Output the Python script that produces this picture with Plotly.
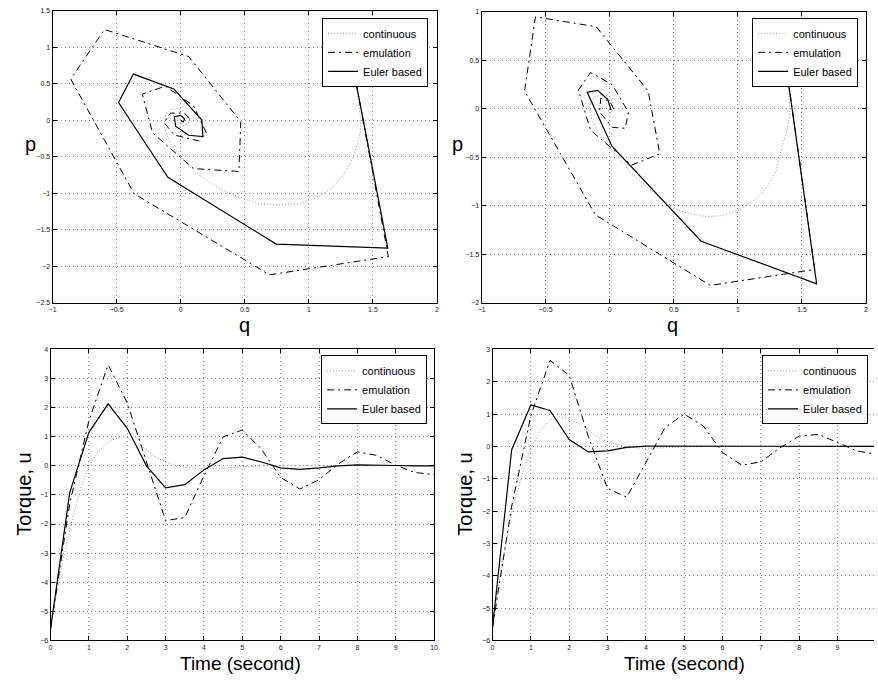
import plotly.graph_objects as go

# ---------------- data ----------------
# Top-left phase portrait (q, p)
tl_cont_q = [1.37, 1.39, 1.405, 1.40, 1.38, 1.34, 1.27, 1.17, 1.05, 0.92, 0.78, 0.62, 0.45, 0.30, 0.16,
             0.05, -0.04, -0.10, -0.13, -0.12, -0.08, -0.02, 0.04, 0.07, 0.06, 0.03, 0.00, -0.02, -0.01, 0.00]
tl_cont_p = [0.50, 0.25, 0.00, -0.15, -0.33, -0.53, -0.75, -0.94, -1.07, -1.14, -1.16, -1.14, -1.05, -0.93, -0.77,
             -0.60, -0.42, -0.24, -0.07, 0.07, 0.15, 0.16, 0.11, 0.03, -0.04, -0.07, -0.06, -0.02, 0.01, 0.01]
tl_emu_q = [1.37, 1.62, 0.693, -0.363, -0.858, -0.595, 0.062, 0.469, 0.454, 0.10, -0.22, -0.30, -0.12,
            0.10, 0.20, 0.14, -0.05, -0.13, -0.08, 0.03, 0.08]
tl_emu_p = [0.50, -1.866, -2.115, -1.005, 0.567, 1.246, 0.875, -0.018, -0.70, -0.66, -0.17, 0.36, 0.47,
            0.20, -0.17, -0.28, -0.20, -0.03, 0.10, 0.10, 0.00]
tl_eul_q = [1.37, 1.616, 0.745, -0.10, -0.485, -0.369, -0.054, 0.165, 0.173, 0.062, -0.04, -0.05, 0.00,
            0.03, 0.02, 0.00, 0.00]
tl_eul_p = [0.50, -1.75, -1.694, -0.779, 0.245, 0.635, 0.431, 0.005, -0.221, -0.203, -0.08, 0.05, 0.07,
            0.02, -0.02, -0.01, 0.00]

# Top-right phase portrait (q, p)
tr_cont_q = [1.37, 1.39, 1.405, 1.40, 1.38, 1.34, 1.30, 1.23, 1.15, 1.00, 0.87, 0.76, 0.62, 0.53, 0.40, 0.275,
             0.16, 0.07, -0.02, -0.09, -0.14, -0.16, -0.13, -0.07, -0.02, 0.02, 0.03, 0.01, -0.01, -0.01, 0.00]
tr_cont_p = [0.50, 0.25, 0.05, -0.10, -0.24, -0.40, -0.63, -0.80, -0.92, -1.05, -1.10, -1.11, -1.08, -1.04, -0.93, -0.786,
             -0.65, -0.51, -0.37, -0.24, -0.10, 0.03, 0.11, 0.15, 0.13, 0.07, 0.00, -0.04, -0.03, 0.00, 0.01]
tr_emu_q = [1.37, 1.60, 0.785, -0.112, -0.665, -0.58, -0.106, 0.30, 0.39, 0.17, -0.15, -0.245, -0.15,
            0.02, 0.146, 0.12, 0.02, -0.08, -0.07, 0.00, 0.03]
tr_emu_p = [0.50, -1.655, -1.82, -1.092, 0.184, 0.949, 0.847, 0.184, -0.463, -0.58, -0.22, 0.194, 0.375,
            0.25, -0.037, -0.20, -0.19, -0.03, 0.11, 0.08, 0.00]
tr_eul_q = [1.37, 1.614, 0.713, 0.017, -0.176, -0.095, -0.016, 0.012, 0.01, 0.00]
tr_eul_p = [0.50, -1.803, -1.364, -0.384, 0.173, 0.192, 0.098, 0.00, -0.01, 0.00]

# Bottom: torque vs time
t_samp = [0, 0.5, 1, 1.5, 2, 2.5, 3, 3.5, 4, 4.5, 5, 5.5, 6, 6.5, 7, 7.5, 8, 8.5, 9, 9.5, 10]
t_cont = [0, 0.25, 0.5, 0.75, 1.0, 1.25, 1.5, 1.75, 2.0, 2.25, 2.5, 2.75, 3.0, 3.5, 4.0, 4.5, 5.0, 5.5,
          6.0, 7.0, 8.0, 9.0, 10.0]

bl_cont = [-5.6, -3.7, -2.2, -0.9, 0.0, 0.5, 0.82, 0.97, 0.95, 0.78, 0.55, 0.30, 0.12, -0.06, -0.10, -0.08,
           -0.03, 0.00, 0.02, 0.01, 0.00, 0.00, 0.00]
bl_emu = [-5.6, -1.3, 1.55, 3.47, 2.16, 0.11, -1.88, -1.78, -0.34, 0.99, 1.23, 0.57, -0.40, -0.80, -0.48,
          0.06, 0.48, 0.36, 0.02, -0.23, -0.30]
bl_eul = [-5.6, -0.92, 1.15, 2.13, 1.29, 0.00, -0.76, -0.65, -0.14, 0.25, 0.30, 0.13, -0.07, -0.12, -0.07,
          0.00, 0.03, 0.03, 0.01, 0.00, 0.00]

br_cont = [-5.6, -3.6, -2.05, -0.95, -0.05, 0.50, 0.82, 0.92, 0.85, 0.70, 0.50, 0.28, 0.15, -0.02, -0.06,
           -0.05, -0.02, 0.00, 0.01, 0.00, 0.00, 0.00, 0.00]
br_emu = [-5.6, -1.85, 0.95, 2.66, 2.20, 0.30, -1.30, -1.57, -0.50, 0.58, 1.00, 0.63, -0.19, -0.58, -0.48,
          -0.04, 0.32, 0.37, 0.12, -0.14, -0.24]
br_eul = [-5.6, -0.10, 1.28, 1.11, 0.21, -0.17, -0.14, -0.03, 0.01, 0.01, 0.00, 0.00, 0.00, 0.00, 0.00,
          0.00, 0.00, 0.00, 0.00, 0.00, 0.00]

names = ["continuous", "emulation", "Euler based"]

# ---------------- styles ----------------
FONT = "Liberation Sans"
W, H = 878, 681
styles = [
    dict(color="#9a9a9a", width=1, dash="1px,2px"),
    dict(color="black", width=1, dash="7px,4px,2px,4px"),
    dict(color="black", width=1.2),
]

fig = go.Figure()

panels = [
    ("x", "y", "legend", [(tl_cont_q, tl_cont_p), (tl_emu_q, tl_emu_p), (tl_eul_q, tl_eul_p)]),
    ("x2", "y2", "legend2", [(tr_cont_q, tr_cont_p), (tr_emu_q, tr_emu_p), (tr_eul_q, tr_eul_p)]),
    ("x3", "y3", "legend3", [(t_cont, bl_cont), (t_samp, bl_emu), (t_samp, bl_eul)]),
    ("x4", "y4", "legend4", [(t_cont, br_cont), (t_samp, br_emu), (t_samp, br_eul)]),
]
for xa, ya, lg, series in panels:
    for (xs, ys), nm, st in zip(series, names, styles):
        fig.add_trace(go.Scatter(x=xs, y=ys, mode="lines", name=nm, line=st,
                                 xaxis=xa, yaxis=ya, legend=lg))


def ax(domain, rng, dtick, mirror="ticks"):
    return dict(domain=domain, range=rng, dtick=dtick, tick0=rng[0], autorange=False,
                showline=True, linecolor="black", linewidth=1, mirror=mirror,
                ticks="inside", ticklen=4, tickcolor="black", tickwidth=1,
                showgrid=True, gridcolor="#8a8a8a", griddash="1px,3px", gridwidth=1,
                zeroline=False, tickfont=dict(family=FONT, size=7, color="#222"))


def px(x0, x1):
    return [x0 / W, min(x1 / W, 1.0)]


def py(y0, y1):
    return [1 - y1 / H, 1 - y0 / H]


xaxis = ax(px(49, 437), [-1, 2], 0.5)
yaxis = ax(py(7, 302), [-2.5, 1.5], 0.5)
xaxis2 = ax(px(482, 870), [-1, 2], 0.5)
yaxis2 = ax(py(8, 302), [-2, 1], 0.5)
xaxis3 = ax(px(47, 434), [0, 10], 1)
yaxis3 = ax(py(349, 643), [-6, 4], 1)
xaxis4 = ax(px(493, 878), [0, 9.95], 1)
yaxis4 = ax(py(349, 643), [-6, 3], 1, mirror=False)
for a, b in [(xaxis, "y"), (xaxis2, "y2"), (xaxis3, "y3"), (xaxis4, "y4")]:
    a["anchor"] = b
for a, b in [(yaxis, "x"), (yaxis2, "x2"), (yaxis3, "x3"), (yaxis4, "x4")]:
    a["anchor"] = b


def leg(xr, yt):
    return dict(x=xr / W, y=1 - yt / H, xanchor="right", yanchor="top",
                bgcolor="white", bordercolor="black", borderwidth=1,
                font=dict(family=FONT, size=11, color="black"),
                itemwidth=30, tracegroupgap=0)


label_font = dict(family=FONT, size=20, color="black")
annotations = [
    dict(text="p", x=27 / W, y=1 - 141 / H),
    dict(text="p", x=458 / W, y=1 - 141 / H),
    dict(text="q", x=243 / W, y=1 - 324 / H),
    dict(text="q", x=675 / W, y=1 - 324 / H),
    dict(text="Time (second)", x=239 / W, y=1 - 654 / H, yanchor="top", font=dict(family=FONT, size=19, color="black")),
    dict(text="Time (second)", x=687 / W, y=1 - 654 / H, yanchor="top", font=dict(family=FONT, size=19, color="black")),
    dict(text="Torque, u", x=20 / W, y=1 - 495 / H, textangle=-90),
    dict(text="Torque, u", x=465 / W, y=1 - 495 / H, textangle=-90),
]
for a in annotations:
    a.setdefault("yanchor", "middle")
    a.setdefault("font", label_font)
    a.update(xref="paper", yref="paper", xanchor="center", showarrow=False)

fig.update_layout(
    width=W, height=H, margin=dict(l=0, r=0, t=0, b=0),
    paper_bgcolor="white", plot_bgcolor="white",
    showlegend=True,
    xaxis=xaxis, yaxis=yaxis, xaxis2=xaxis2, yaxis2=yaxis2,
    xaxis3=xaxis3, yaxis3=yaxis3, xaxis4=xaxis4, yaxis4=yaxis4,
    legend=leg(428, 14), legend2=leg(862, 14), legend3=leg(427, 355), legend4=leg(872, 355),
    annotations=annotations,
    font=dict(family=FONT),
)

fig.write_html("out.html", config={"displayModeBar": False},
               post_script="document.body.style.margin='0';document.body.style.overflow='hidden';")
